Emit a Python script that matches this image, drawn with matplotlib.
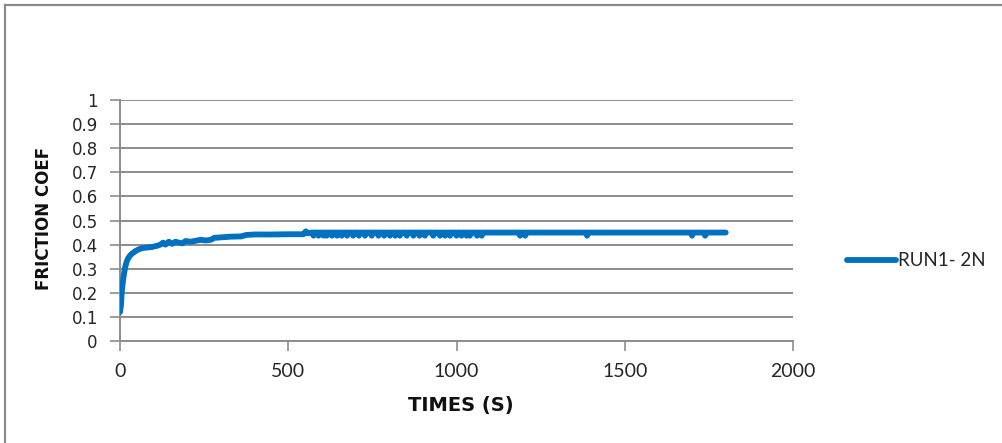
import matplotlib
matplotlib.use("Agg")
import matplotlib.pyplot as plt
from matplotlib.lines import Line2D

# ---- data ----
time_s = [0, 3, 5, 8, 12, 16, 20, 25, 30, 38, 45, 55, 65, 80, 95, 110, 120, 128, 135, 145,
          155, 165, 175, 185, 195, 210, 225, 240, 255, 270, 280, 300, 330, 360, 375, 400,
          450, 500, 545, 552, 558, 570,
          572, 575, 578, 587, 590, 593, 602, 605, 608, 611, 614, 617, 627, 630, 633,
          642, 645, 648, 656, 659, 662, 672, 675, 678, 690, 693, 696, 707, 710, 713,
          725, 728, 731, 745, 748, 751, 765, 768, 771, 782, 785, 788, 799, 802, 805,
          815, 818, 821, 829, 832, 835, 849, 852, 855, 869, 872, 875, 887, 890, 893,
          903, 906, 909, 928, 931, 934, 948, 951, 954, 963, 966, 969, 978, 981, 984,
          997, 1000, 1003, 1012, 1015, 1018, 1027, 1030, 1033, 1037, 1040, 1043,
          1058, 1061, 1064, 1072, 1075, 1078, 1186, 1189, 1192, 1201, 1204, 1207,
          1385, 1388, 1391, 1697, 1700, 1703, 1736, 1739, 1742, 1800]

friction = [0.12, 0.15, 0.20, 0.24, 0.28, 0.31, 0.33, 0.345, 0.355, 0.365, 0.372, 0.38, 0.385,
            0.388, 0.39, 0.395, 0.40, 0.408, 0.40, 0.412, 0.403, 0.412, 0.408, 0.405, 0.415,
            0.412, 0.416, 0.42, 0.417, 0.42, 0.428, 0.43, 0.433, 0.434, 0.44, 0.442, 0.442,
            0.443, 0.443, 0.455, 0.447, 0.45,
            0.45, 0.437, 0.45, 0.45, 0.437, 0.45, 0.45, 0.437, 0.45, 0.45, 0.437, 0.45,
            0.45, 0.437, 0.45, 0.45, 0.437, 0.45, 0.45, 0.437, 0.45, 0.45, 0.437, 0.45,
            0.45, 0.437, 0.45, 0.45, 0.437, 0.45, 0.45, 0.437, 0.45, 0.45, 0.437, 0.45,
            0.45, 0.437, 0.45, 0.45, 0.437, 0.45, 0.45, 0.437, 0.45, 0.45, 0.437, 0.45,
            0.45, 0.437, 0.45, 0.45, 0.437, 0.45, 0.45, 0.437, 0.45, 0.45, 0.437, 0.45,
            0.45, 0.437, 0.45, 0.45, 0.437, 0.45, 0.45, 0.437, 0.45, 0.45, 0.437, 0.45,
            0.45, 0.437, 0.45, 0.45, 0.437, 0.45, 0.45, 0.437, 0.45, 0.45, 0.437, 0.45,
            0.45, 0.437, 0.45, 0.45, 0.437, 0.45, 0.45, 0.437, 0.45, 0.45, 0.437, 0.45,
            0.45, 0.437, 0.45, 0.45, 0.437, 0.45, 0.45, 0.437, 0.45, 0.45, 0.437, 0.45,
            0.45]

series_label = "RUN1- 2N"
x_ticks = [0, 500, 1000, 1500, 2000]
y_ticks = [0, 0.1, 0.2, 0.3, 0.4, 0.5, 0.6, 0.7, 0.8, 0.9, 1]
y_tick_labels = ["0", "0.1", "0.2", "0.3", "0.4", "0.5", "0.6", "0.7", "0.8", "0.9", "1"]
x_title = "TIMES (S)"
y_title = "FRICTION COEF"

# ---- figure ----
W, H = 1003, 443
fig = plt.figure(figsize=(W / 100, H / 100), dpi=100)
fig.patch.set_facecolor("white")

grid_c = "#8c8c8c"
blue = "#0070c0"
text_c = "#262626"

ax = fig.add_axes([120 / W, 1 - 341 / H, (793 - 120) / W, (341 - 100) / H])
ax.plot(time_s, friction, color=blue, lw=4.2, solid_capstyle="round",
        solid_joinstyle="round", label=series_label, zorder=3)

ax.set_xlim(0, 2000)
ax.set_ylim(0, 1)
ax.set_xticks(x_ticks)
ax.set_xticklabels([str(v) for v in x_ticks], family="Lato", fontsize=14, color=text_c)
ax.set_yticks(y_ticks)
ax.set_yticklabels(y_tick_labels, family="DejaVu Sans", fontsize=12, color=text_c)

ax.yaxis.grid(True, color=grid_c, lw=1.4)
ax.set_axisbelow(True)
for s in ["top", "right"]:
    ax.spines[s].set_visible(False)
for s in ["left", "bottom"]:
    ax.spines[s].set_color(grid_c)
    ax.spines[s].set_linewidth(1.4)
ax.tick_params(axis="both", color=grid_c, width=1.2, length=7, direction="out")
ax.tick_params(axis="x", pad=9)
ax.tick_params(axis="y", pad=9)

ax.set_xlabel(x_title, family="DejaVu Sans", fontweight="bold", fontsize=14, color="#111111")
ax.xaxis.set_label_coords(0.507, -0.228)
ax.set_ylabel(y_title, family="DejaVu Sans", fontweight="bold", fontsize=12, color="#111111")
ax.yaxis.set_label_coords(-0.10, 0.509)

leg = fig.legend(loc="center left", bbox_to_anchor=(847 / W, 1 - 261 / H), frameon=False,
                 borderpad=0, borderaxespad=0, handlelength=2.6, handletextpad=0.12,
                 prop={"family": "Lato", "size": 13.5})
for t in leg.get_texts():
    t.set_color(text_c)

# outer chart frame (top and left edges visible)
fig.add_artist(Line2D([5 / W, 1.0], [1 - 5 / H, 1 - 5 / H], transform=fig.transFigure,
                      color="#8a8a8a", lw=1.6))
fig.add_artist(Line2D([5 / W, 5 / W], [0, 1 - 5 / H], transform=fig.transFigure,
                      color="#8a8a8a", lw=1.6))

fig.savefig("out.png", dpi=100, facecolor="white")
